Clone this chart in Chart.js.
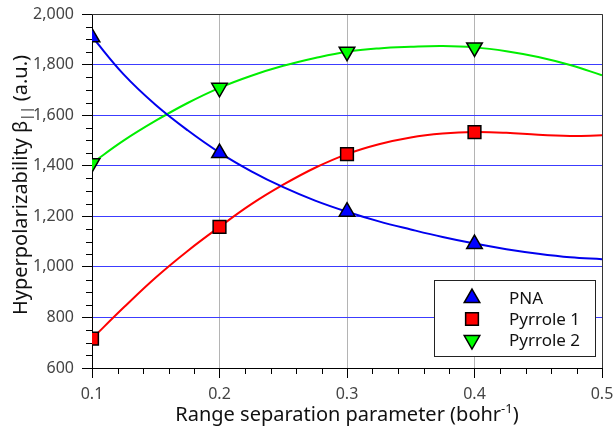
<!DOCTYPE html>
<html>
<head>
<meta charset="utf-8">
<script src="https://cdn.jsdelivr.net/npm/chart.js@4.4.1/dist/chart.umd.min.js"></script>
<style>
html,body{margin:0;padding:0;background:#fff;}
canvas{display:block;}
</style>
</head>
<body>
<canvas id="c" width="614" height="432"></canvas>
<script>
// ---- data ----
const seriesNames = ["PNA", "Pyrrole 1", "Pyrrole 2"];
const xPoints = [0.1, 0.2, 0.3, 0.4];
const pnaValues = [1908, 1450, 1218, 1090];
const pyrrole1Values = [716, 1158, 1446, 1533];
const pyrrole2Values = [1410, 1708, 1851, 1868];

// fitted curves
const fitX = [0.1, 0.125, 0.15, 0.175, 0.2, 0.225, 0.25, 0.275, 0.3, 0.325, 0.35, 0.375, 0.4, 0.425, 0.45, 0.475, 0.5];
const pnaFit = [1910, 1760, 1640, 1540, 1452, 1378, 1315, 1262, 1218, 1180, 1148, 1118, 1092, 1070, 1052, 1038, 1030];
const pyrrole1Fit = [716, 840, 958, 1063, 1158, 1248, 1325, 1392, 1446, 1485, 1512, 1527, 1533, 1530, 1522, 1518, 1520];
const pyrrole2Fit = [1410, 1500, 1578, 1648, 1708, 1756, 1795, 1826, 1851, 1864, 1870, 1873, 1868, 1853, 1830, 1798, 1758];

const xTicks = [0.1, 0.2, 0.3, 0.4, 0.5];
const yTicks = [600, 800, 1000, 1200, 1400, 1600, 1800, 2000];

const FONT = "'Noto Sans', 'DejaVu Sans', sans-serif";

function pts(xs, ys) { return xs.map((x, i) => ({x: x, y: ys[i]})); }

const lineDs = (data, color) => ({
  type: 'line', data: data, borderColor: color, borderWidth: 2,
  pointRadius: 0, fill: false, tension: 0.4,
  order: 2, isFit: true, clip: 0
});
const markDs = (label, data, color, style, rot) => ({
  type: 'scatter', label: label, data: data, backgroundColor: color,
  borderColor: '#000', borderWidth: 1.5, pointStyle: style, pointRotation: rot,
  pointRadius: 9, order: 1, clip: {left: 0, top: 0, right: 0, bottom: 0}
});

const datasets = [
  lineDs(pts(fitX, pnaFit), '#0000ee'),
  lineDs(pts(fitX, pyrrole1Fit), '#ff0000'),
  lineDs(pts(fitX, pyrrole2Fit), '#00ee00'),
  markDs(seriesNames[0], pts(xPoints, pnaValues), '#0000ff', 'triangle', 0),
  markDs(seriesNames[1], pts(xPoints, pyrrole1Values), '#ff0000', 'rect', 0),
  markDs(seriesNames[2], pts(xPoints, pyrrole2Values), '#00ff00', 'triangle', 180)
];

const decorPlugin = {
  id: 'decor',
  afterDraw(chart) {
    const ctx = chart.ctx;
    const a = chart.chartArea;
    const xs = chart.scales.x, ys = chart.scales.y;
    ctx.save();
    // frame top/right
    ctx.strokeStyle = '#333';
    ctx.lineWidth = 1;
    ctx.beginPath();
    ctx.moveTo(a.left, a.top + 0.5);
    ctx.lineTo(a.right + 0.5, a.top + 0.5);
    ctx.lineTo(a.right + 0.5, a.bottom);
    ctx.stroke();
    // minor ticks
    ctx.strokeStyle = '#000';
    ctx.beginPath();
    for (let v = 650; v < 2000; v += 50) {
      if (v % 200 === 0) continue;
      const y = Math.round(ys.getPixelForValue(v)) + 0.5;
      ctx.moveTo(a.left - 6, y); ctx.lineTo(a.left, y);
    }
    for (let i = 1; i < 20; i++) {
      if (i % 5 === 0) continue;
      const x = Math.round(xs.getPixelForValue(0.1 + i * 0.02)) + 0.5;
      ctx.moveTo(x, a.bottom); ctx.lineTo(x, a.bottom + 6);
    }
    ctx.stroke();

    // axis titles
    ctx.fillStyle = '#111';
    const TS = 20, SS = 13;
    const base = "Range separation parameter (bohr";
    ctx.font = TS + "px " + FONT;
    const w1 = ctx.measureText(base).width;
    ctx.font = SS + "px " + FONT;
    const w2 = ctx.measureText("-1").width;
    ctx.font = TS + "px " + FONT;
    const w3 = ctx.measureText(")").width;
    let tx = (a.left + a.right) / 2 - (w1 + w2 + w3) / 2;
    const ty = 421;
    ctx.textBaseline = 'alphabetic';
    ctx.textAlign = 'left';
    ctx.fillText(base, tx, ty);
    ctx.font = SS + "px " + FONT;
    ctx.fillText("-1", tx + w1, ty - 8);
    ctx.font = TS + "px " + FONT;
    ctx.fillText(")", tx + w1 + w2, ty);

    // y title
    ctx.save();
    ctx.translate(27, (a.top + a.bottom) / 2 - 6);
    ctx.rotate(-Math.PI / 2);
    const p1 = "Hyperpolarizability \u03B2", p2 = "||", p3 = " (a.u.)";
    ctx.font = TS + "px " + FONT;
    const q1 = ctx.measureText(p1).width, q3 = ctx.measureText(p3).width;
    ctx.font = SS + "px " + FONT;
    const q2 = ctx.measureText(p2).width;
    let sx = -(q1 + q2 + q3) / 2;
    ctx.font = TS + "px " + FONT;
    ctx.fillText(p1, sx, 0);
    ctx.font = SS + "px " + FONT;
    ctx.fillText(p2, sx + q1, 4);
    ctx.font = TS + "px " + FONT;
    ctx.fillText(p3, sx + q1 + q2, 0);
    ctx.restore();

    // legend box
    const bx = 434, by = 280, bw = 161, bh = 76;
    ctx.fillStyle = '#fff';
    ctx.fillRect(bx, by, bw, bh);
    ctx.strokeStyle = '#222';
    ctx.lineWidth = 1;
    ctx.strokeRect(bx + 0.5, by + 0.5, bw, bh);
    const marks = chart.data.datasets.filter(d => !d.isFit);
    marks.forEach((d, i) => {
      const cy = by + 18 + i * 21;
      ctx.fillStyle = d.backgroundColor;
      ctx.strokeStyle = '#000';
      ctx.lineWidth = 1.5;
      Chart.helpers.drawPoint(ctx, {pointStyle: d.pointStyle, radius: 9, rotation: d.pointRotation, borderWidth: 1.5}, bx + 38, cy);
      ctx.fillStyle = '#111';
      ctx.font = "17px " + FONT;
      ctx.textBaseline = 'middle';
      ctx.fillText(d.label, bx + 75, cy + 1);
    });
    ctx.restore();
  }
};

new Chart(document.getElementById('c'), {
  data: {datasets: datasets},
  options: {
    responsive: false,
    animation: false,
    devicePixelRatio: 1,
    layout: {padding: {left: 0, right: 12, top: 14, bottom: 0}},
    plugins: {legend: {display: false}, tooltip: {enabled: false}},
    scales: {
      x: {
        type: 'linear', min: 0.1, max: 0.5,
        afterBuildTicks: s => { s.ticks = xTicks.map(v => ({value: v})); },
        afterFit: s => { s.height = 64; s.paddingLeft = 0; s.paddingRight = 0; },
        ticks: {color: '#444', font: {size: 16, family: FONT}, padding: 7,
          callback: v => v.toFixed(1)},
        grid: {color: '#b4b4b4', lineWidth: 1, tickLength: 10, tickColor: '#000', drawOnChartArea: true},
        border: {color: '#000', width: 1}
      },
      y: {
        type: 'linear', min: 600, max: 2000,
        afterBuildTicks: s => { s.ticks = yTicks.map(v => ({value: v})); },
        afterFit: s => { s.width = 92; s.paddingTop = 0; s.paddingBottom = 0; },
        ticks: {color: '#444', font: {size: 16, family: FONT}, padding: 8,
          callback: v => v.toLocaleString('en-US')},
        grid: {color: '#3c3cff', lineWidth: 1, tickLength: 10, tickColor: '#000'},
        border: {color: '#000', width: 1}
      }
    }
  },
  plugins: [decorPlugin]
});
</script>
</body>
</html>
